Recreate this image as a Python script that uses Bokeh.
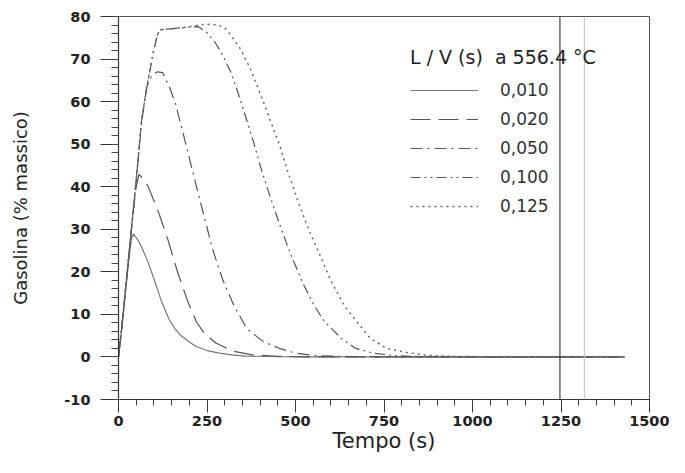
from bokeh.plotting import figure
from bokeh.models import (Range1d, SingleIntervalTicker, Legend, LegendItem,
                          Span, PrintfTickFormatter)
from bokeh.embed import file_html
from bokeh.resources import INLINE

# ---- data ----
series_labels = ["0,010", "0,020", "0,050", "0,100", "0,125"]

t_010 = [0, 10, 20, 30, 36, 42, 55, 65, 83, 102, 120, 143, 160, 175, 200, 221,
         250, 285, 320, 359, 420, 500, 650, 900, 1200, 1430]
g_010 = [0, 7.3, 15.5, 23.5, 27.5, 28.9, 27.5, 25.9, 22.4, 17.9, 13.4, 8.8, 6.6,
         5.1, 3.5, 2.4, 1.5, 0.9, 0.5, 0.2, 0.1, 0, 0, 0, 0, 0]

t_020 = [0, 10, 20, 30, 40, 50, 58, 70, 83, 111, 139, 166, 194, 221, 244, 276,
         322, 377, 450, 550, 700, 900, 1200, 1430]
g_020 = [0, 7.5, 16, 24.5, 33, 40, 42.9, 41.8, 40.2, 34.5, 27.7, 20.2, 13.4, 8.1,
         5.4, 3.2, 1.4, 0.5, 0.15, 0, 0, 0, 0, 0]

t_050 = [0, 10, 20, 30, 40, 50, 65, 80, 95, 110, 125, 145, 161, 180, 198, 221,
         244, 267, 295, 327, 363, 409, 455, 500, 560, 650, 800, 1000, 1430]
g_050 = [0, 7.5, 16, 24.5, 33, 41.5, 55, 63.5, 66.3, 67, 66.8, 63.2, 59.5, 53.4,
         47.4, 39.8, 32.3, 25, 18, 11.9, 6.6, 3.6, 2.0, 0.9, 0.3, 0.1, 0, 0, 0]

t_100 = [0, 10, 20, 30, 40, 50, 65, 80, 90, 100, 111, 120, 160, 200, 226, 250,
         272, 290, 317, 336, 359, 382, 405, 432, 460, 487, 520, 550, 580, 630,
         670, 720, 780, 850, 1000, 1430]
g_100 = [0, 7.5, 16, 24.5, 33, 41.5, 55.5, 63.5, 67.8, 72.3, 76, 76.9, 77.2, 77.5,
         77.6, 76.2, 74, 71.6, 67, 62.5, 56.5, 50.4, 43.6, 36.8, 30, 24, 17.5,
         12.5, 8.5, 4.3, 2.0, 0.9, 0.3, 0.1, 0, 0]

t_125 = [0, 10, 20, 30, 40, 50, 65, 80, 90, 100, 111, 120, 160, 200, 244, 281,
         300, 313, 345, 372, 400, 427, 455, 478, 506, 533, 565, 600, 639, 675,
         712, 758, 822, 887, 950, 1100, 1430]
g_125 = [0, 7.5, 16, 24.5, 33, 41.5, 55.5, 63.5, 67.8, 72.3, 76, 76.9, 77.2, 77.6,
         78.2, 78, 77.3, 76.1, 72.3, 67.8, 62, 56, 49.8, 43.6, 36.8, 30.8, 24.7,
         17.9, 11.9, 8.1, 4.3, 2.0, 0.9, 0.3, 0.1, 0, 0]

x_ticks_interval = 250
y_ticks_interval = 10
scan_lines = [1247, 1316]   # vertical scan marks visible in the original

# ---- figure ----
FONT = "DejaVu Sans"
W, H = 669, 457
BL, BR, BT, BB = 118, 20, 16, 58
p = figure(width=W, height=H, output_backend="svg", toolbar_location=None,
           x_range=Range1d(0, 1500), y_range=Range1d(-10, 80),
           min_border_left=BL, min_border_right=BR, min_border_top=BT,
           min_border_bottom=BB)
p.background_fill_color = "white"
p.border_fill_color = "white"
p.outline_line_color = "#555555"
p.outline_line_width = 1
p.xgrid.visible = False
p.ygrid.visible = False

xa = p.xaxis[0]
xa.ticker = SingleIntervalTicker(interval=x_ticks_interval, num_minor_ticks=5)
xa.major_tick_out = 13
xa.major_tick_in = 0
xa.minor_tick_out = 6
xa.minor_tick_in = 0
xa.major_label_standoff = 3
xa.axis_label = "Tempo (s)"
xa.axis_label_standoff = 0
xa.axis_label_text_font_size = "21px"

ya = p.yaxis[0]
ya.ticker = SingleIntervalTicker(interval=y_ticks_interval, num_minor_ticks=5)
ya.major_tick_out = 18
ya.major_tick_in = 0
ya.minor_tick_out = 7
ya.minor_tick_in = 0
ya.major_label_standoff = 10
ya.axis_label = "Gasolina (% massico)"
ya.axis_label_text_font_size = "18px"
ya.axis_label_standoff = 30
for ax in (xa, ya):
    ax.formatter = PrintfTickFormatter(format="%d")
    ax.axis_line_color = "#333333"
    ax.axis_line_width = 1.2
    ax.major_tick_line_color = "#333333"
    ax.minor_tick_line_color = "#444444"
    ax.major_label_text_font = FONT
    ax.major_label_text_font_size = "14.5px"
    ax.major_label_text_font_style = "bold"
    ax.major_label_text_color = "#222222"
    ax.axis_label_text_font = FONT
    ax.axis_label_text_font_style = "normal"
    ax.axis_label_text_color = "#222222"

for loc, col in zip(scan_lines, ["#444444", "#c8c8c8"]):
    p.add_layout(Span(location=loc, dimension="height", line_color=col,
                      line_width=1.2))

styles = [
    dict(line_dash="solid", line_color="#777777", line_width=1.2),
    dict(line_dash="20 8", line_color="#555555", line_width=1.2),
    dict(line_dash="12 5 2 5", line_color="#555555", line_width=1.2),
    dict(line_dash="10 4 2 4 2 4", line_color="#555555", line_width=1.2),
    dict(line_dash="2 4", line_color="#666666", line_width=1.5),
]
data = [(t_010, g_010), (t_020, g_020), (t_050, g_050), (t_100, g_100),
        (t_125, g_125)]
items = []
for (tx, gy), st, lab in zip(data, styles, series_labels):
    r = p.line(tx, gy, **st)
    items.append(LegendItem(label=lab, renderers=[r]))

frame_bottom = H - BB
legend = Legend(items=items, location=(410 - BL, frame_bottom - 216),
                title="L / V (s)  a 556.4 °C",
                title_text_font=FONT, title_text_font_size="19px",
                title_text_font_style="normal", title_text_color="#222222",
                title_standoff=12,
                label_text_font=FONT, label_text_font_size="17px",
                label_text_color="#333333",
                glyph_width=68, glyph_height=20, label_height=20,
                label_standoff=22, spacing=9, padding=0, margin=0,
                border_line_alpha=0, background_fill_alpha=0)
p.add_layout(legend, "center")

open("out.html", "w").write(file_html(p, INLINE))
